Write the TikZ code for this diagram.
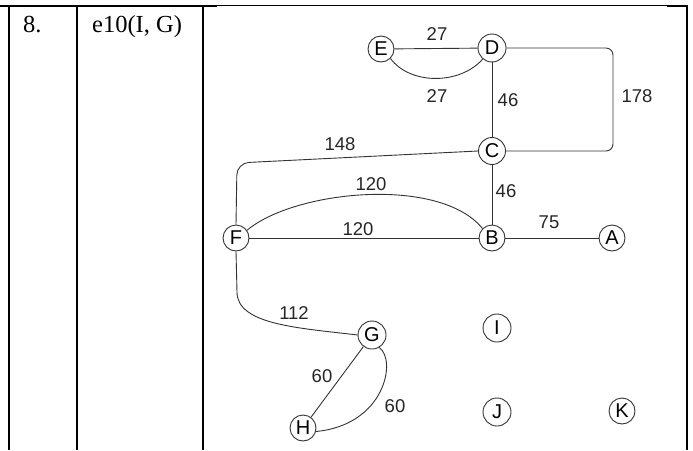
\documentclass[tikz,border=0pt]{standalone}
\usepackage{fontspec}
\setmainfont{Liberation Serif}
\newfontfamily\hand{Liberation Sans}
\usetikzlibrary{positioning, calc}

\begin{document}
\begin{tikzpicture}[x=1pt, y=-1pt,
	vtx/.style={circle, draw=black!80, line width=.9pt, minimum size=26pt, inner sep=0pt, font=\hand\fontsize{20}{20}\selectfont},
	edge/.style={draw=black!80, line width=.9pt},
	wt/.style={font=\hand\fontsize{18.5}{18.5}\selectfont, inner sep=0pt, text=black!85},
	cell/.style={font=\fontsize{24.5}{29}\selectfont, anchor=base west, inner sep=0pt},
	tline/.style={line width=2pt}]
	\useasboundingbox (0,0) rectangle (693,450);
	% table
	\draw[tline] (0,5.5) -- (217,5.5);
	\draw[line width=1pt] (217,5.5) -- (667,5.5);
	\draw[tline] (667,5.5) -- (688,5.5);
	\draw[tline] (9,5) -- (9,450);
	\draw[tline] (77,5) -- (77,450);
	\draw[tline] (203,5) -- (203,450);
	\draw[tline] (687,5) -- (687,450);
	\node[cell] (num) at (23,32) {8.};
	\node[cell] (task) at (92,32) {e10(I, G)};
	% graph
	\node[vtx] (E) at (381,49) {E};
	\node[vtx, minimum size=28pt] (D) at (492,48) {D};
	\node[vtx, minimum size=27pt] (C) at (492,151) {C};
	\node[vtx] (F) at (236,238) {F};
	\node[vtx] (B) at (492,238) {B};
	\node[vtx] (A) at (612,238) {A};
	\node[vtx, minimum size=28pt] (G) at (372,335) {G};
	\node[vtx] (H) at (303,428) {H};
	\node[vtx, minimum size=28pt] (I) at (497,328) {I};
	\node[vtx, minimum size=28pt] (J) at (497,412) {J};
	\node[vtx] (K) at (622,411) {K};
	\coordinate (r) at (613,100);
	\coordinate (cf) at (237,163);
	\coordinate (fg) at (237,292);

	\draw[edge] (E) -- (D);
	\node[wt] at (437,34) {27};
	\draw[edge] (E.-45) .. controls (410,85) and (460,85) .. (D.-130);
	\node[wt] at (437,96) {27};
	\draw[edge] (D) -- (C);
	\node[wt] at (508,100) {46};
	\draw[edge, rounded corners=7pt] (D.east) -| (r) |- (C.east);
	\node[wt] at (637,96) {178};
	\draw[edge, rounded corners=12pt] (C.west) -- (cf) -- (F.north);
	\node[wt] at (340,144) {148};
	\draw[edge] (C) -- (B);
	\node[wt] at (506,191) {46};
	\draw[edge] (F.35) .. controls (295,190) and (440,176) .. (B.north west);
	\node[wt] at (371,184) {120};
	\draw[edge] (F) -- (B);
	\node[wt] at (358,229) {120};
	\draw[edge] (B) -- (A);
	\node[wt] at (549,222) {75};
	\draw[edge] (F.south) -- (fg) .. controls (237,325) and (300,328) .. (G.west);
	\node[wt] at (294,313) {112};
	\draw[edge] (G) -- (H);
	\node[wt] at (322,376) {60};
	\draw[edge] (G.-60) .. controls (397,360) and (385,425) .. (H.-15);
	\node[wt] at (395,406) {60};
\end{tikzpicture}
\end{document}
